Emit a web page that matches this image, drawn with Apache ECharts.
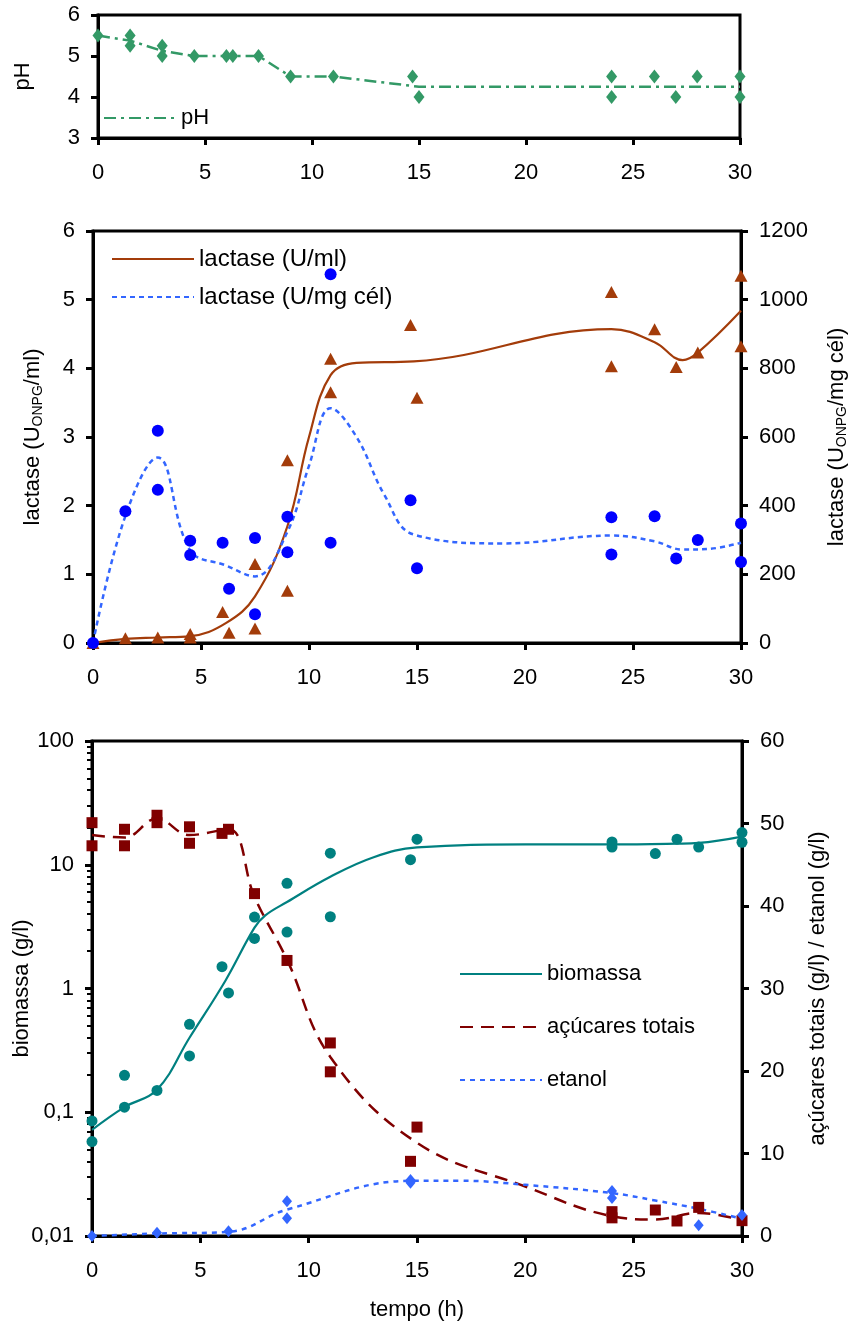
<!DOCTYPE html>
<html>
<head>
<meta charset="utf-8">
<script src="https://cdn.jsdelivr.net/npm/echarts@6/dist/echarts.min.js"></script>
<style>
  html, body { margin: 0; padding: 0; background: #fff; }
  #chart { width: 851px; height: 1323px; }
</style>
</head>
<body>
<div id="chart"></div>
<script>
// ---- time axis ----
const timeTicks = [0, 5, 10, 15, 20, 25, 30];

// ---- pH panel ----
const phTime   = [0, 1.5, 1.5, 3, 3, 4.5, 6, 6.3, 7.5, 9, 11, 14.7, 15, 24, 24, 26, 27, 28, 30, 30];
const phValues = [5.5, 5.5, 5.25, 5.25, 5.0, 5.0, 5.0, 5.0, 5.0, 4.5, 4.5, 4.5, 4.0, 4.5, 4.0, 4.5, 4.0, 4.5, 4.5, 4.0];
const phCurveTime = [0, 1.5, 3, 4.5, 6, 6.3, 7.5, 9, 11, 15, 24, 30];
const phCurve     = [5.5, 5.375, 5.125, 5.0, 5.0, 5.0, 5.0, 4.5, 4.5, 4.25, 4.25, 4.25];
const phTicks = [3, 4, 5, 6];

// ---- lactase panel ----
const lacMlTime   = [0, 1.5, 3, 4.5, 4.5, 6, 6.3, 7.5, 7.5, 9, 9, 11, 11, 14.7, 15, 24, 24, 26, 27, 28, 30, 30];
const lacMlValues = [0, 0.07, 0.08, 0.13, 0.08, 0.45, 0.15, 1.15, 0.21, 2.66, 0.76, 4.14, 3.65, 4.63, 3.57, 5.11, 4.03, 4.57, 4.02, 4.23, 5.35, 4.32];
const lacMlCurveTime = [0, 1.5, 3, 4.5, 6.15, 7.5, 9, 10, 11, 12.2, 14.85, 24, 26, 27.3, 28, 30];
const lacMlCurve     = [0, 0.06, 0.08, 0.10, 0.29, 0.68, 1.7, 3.0, 3.9, 4.08, 4.1, 4.57, 4.38, 4.12, 4.23, 4.84];

const lacCelTime   = [0, 1.5, 3, 3, 4.5, 4.5, 6, 6.3, 7.5, 7.5, 9, 9, 11, 11, 14.7, 15, 24, 24, 26, 27, 28, 30, 30];
const lacCelValues = [0, 384, 618, 446, 298, 256, 292, 158, 306, 84, 368, 264, 1074, 292, 416, 218, 366, 258, 369, 246, 300, 348, 236];
const lacCelCurveTime = [0, 1.5, 3, 4.5, 6.15, 7.5, 9, 10, 11, 12.2, 13.5, 14.85, 19, 24, 26, 27.3, 28.5, 30];
const lacCelCurve     = [0, 370, 540, 270, 226, 194, 324, 516, 684, 600, 430, 316, 290, 313, 296, 272, 274, 292];

const lacMlTicks  = [0, 1, 2, 3, 4, 5, 6];
const lacCelTicks = [0, 200, 400, 600, 800, 1000, 1200];

// ---- biomass / sugars / ethanol panel ----
const bioTime   = [0, 0, 1.5, 1.5, 3, 4.5, 4.5, 6, 6.3, 7.5, 7.5, 9, 9, 11, 11, 14.7, 15, 24, 24, 26, 27, 28, 30, 30];
const bioValues = [0.085, 0.058, 0.199, 0.110, 0.150, 0.514, 0.285, 1.50, 0.92, 3.78, 2.54, 7.08, 2.86, 12.4, 3.80, 11.0, 16.1, 15.3, 13.9, 12.3, 16.1, 13.9, 18.2, 15.2];
const bioCurveTime = [0, 1.5, 3, 4.5, 6.15, 7.5, 8, 9, 11, 13, 15, 20, 24, 27, 28, 30];
const bioCurve     = [0.072, 0.11, 0.152, 0.40, 1.15, 3.1, 3.9, 5.0, 8.0, 11.5, 13.8, 14.6, 14.6, 14.8, 15.0, 16.9];

const sugTime   = [0, 0, 1.5, 1.5, 3, 3, 4.5, 4.5, 6, 6.3, 7.5, 9, 11, 11, 14.7, 15, 24, 24, 26, 27, 28, 30];
const sugValues = [50.1, 47.3, 49.3, 47.3, 51.0, 50.1, 49.6, 47.6, 48.8, 49.3, 41.5, 33.4, 23.4, 19.9, 9.05, 13.2, 2.95, 2.2, 3.15, 1.82, 3.47, 1.86];
const sugCurveTime = [0, 1.5, 3, 4.5, 6.3, 7.5, 9, 11, 15, 20, 24, 26, 28, 30];
const sugCurve     = [48.6, 48.3, 50.6, 48.6, 49.3, 41.1, 33.5, 21.7, 11.3, 6.0, 2.4, 2.0, 2.8, 1.9];

const etoTime   = [0, 3, 6.3, 9, 9, 14.7, 14.7, 24, 24, 28, 30];
const etoValues = [0, 0.4, 0.57, 4.2, 2.14, 6.8, 6.46, 5.45, 4.6, 1.29, 2.55];
const etoCurveTime = [0, 3, 6.3, 9, 14.8, 17, 20, 24, 26, 28, 30];
const etoCurve     = [0, 0.3, 0.5, 3.2, 6.7, 6.7, 6.2, 5.2, 4.3, 3.3, 2.1];

const bioTicks = ['0,01', '0,1', '1', '10', '100'];
const rightTicks = [0, 10, 20, 30, 40, 50, 60];

// ---- helpers ----
const pair = (xs, ys) => xs.map((x, i) => [x, ys[i]]);
const FONT = "'Liberation Sans', Arial, sans-serif";
const BLACK = '#000';

const axisLine = { show: true, lineStyle: { color: BLACK, width: 3 } };
const axisTick = { show: true, length: 7, lineStyle: { color: BLACK, width: 3 } };
const labelStyle = { color: BLACK, fontFamily: FONT, fontSize: 22 };
const nameStyle = { fontSize: 22, color: BLACK, fontFamily: FONT };
const plainNumber = v => String(v);

function xAxis(gridIndex) {
  return {
    type: 'value', gridIndex, min: timeTicks[0], max: timeTicks[timeTicks.length - 1],
    interval: timeTicks[1] - timeTicks[0],
    axisLine, axisTick, splitLine: { show: false },
    axisLabel: Object.assign({ margin: 24, formatter: plainNumber }, labelStyle)
  };
}

const subRich = {
  a: { fontSize: 22, fontFamily: FONT, color: BLACK },
  s: { fontSize: 14, fontFamily: FONT, color: BLACK, padding: [11, 0, 0, 0] }
};

// log-spaced minor ticks for the biomass axis (2..9 within each decade, in log10 units)
const minorLog = [];
for (let d = -2; d < 2; d++) for (let k = 2; k <= 9; k++) minorLog.push(d + Math.log10(k));

const legendText = (size) => ({ fontSize: size, color: BLACK, fontFamily: FONT, lineHeight: size });

const gridBase = { show: true, borderColor: BLACK, borderWidth: 3, backgroundColor: 'transparent', outerBoundsMode: 'none', containLabel: false };

const chart = echarts.init(document.getElementById('chart'), null, { renderer: 'canvas' });

const option = {
  backgroundColor: '#fff',
  animation: false,
  textStyle: { fontFamily: FONT },
  grid: [
    Object.assign({ left: 98, right: 111, top: 15, height: 123 }, gridBase),
    Object.assign({ left: 93, right: 110, top: 231, height: 412 }, gridBase),
    Object.assign({ left: 92, right: 109, top: 741, height: 495 }, gridBase)
  ],
  legend: [
    {
      left: 98, top: 102, orient: 'vertical', itemWidth: 72, itemHeight: 14,
      itemStyle: { opacity: 0 },
      textStyle: legendText(22),
      data: ['pH']
    },
    {
      left: 106, top: 242, orient: 'vertical', itemWidth: 82, itemHeight: 14, itemGap: 14,
      itemStyle: { opacity: 0 },
      textStyle: legendText(24),
      data: ['lactase (U/ml)', 'lactase (U/mg cél)']
    },
    {
      left: 454, top: 958, orient: 'vertical', itemWidth: 82, itemHeight: 14, itemGap: 31,
      itemStyle: { opacity: 0 },
      textStyle: legendText(22),
      data: ['biomassa', 'açúcares totais', 'etanol']
    }
  ],
  xAxis: [
    xAxis(0),
    xAxis(1),
    Object.assign(xAxis(2), {
      name: 'tempo (h)', nameLocation: 'middle', nameGap: 63, nameMoveOverlap: false,
      nameTextStyle: nameStyle
    })
  ],
  yAxis: [
    {
      type: 'value', gridIndex: 0, position: 'left', min: phTicks[0], max: phTicks[phTicks.length - 1], interval: 1,
      axisLine, axisTick, splitLine: { show: false },
      axisLabel: Object.assign({ margin: 18, formatter: plainNumber }, labelStyle),
      name: 'pH', nameLocation: 'middle', nameRotate: 90, nameGap: 64, nameMoveOverlap: false,
      nameTextStyle: nameStyle
    },
    {
      type: 'value', gridIndex: 1, position: 'left', min: lacMlTicks[0], max: lacMlTicks[lacMlTicks.length - 1], interval: 1,
      axisLine, axisTick, splitLine: { show: false },
      axisLabel: Object.assign({ margin: 18, formatter: plainNumber }, labelStyle),
      name: '{a|lactase (U}{s|ONPG}{a|/ml)}', nameLocation: 'middle', nameRotate: 90, nameGap: 48, nameMoveOverlap: false,
      nameTextStyle: { rich: subRich }
    },
    {
      type: 'value', gridIndex: 1, position: 'right', min: lacCelTicks[0], max: lacCelTicks[lacCelTicks.length - 1], interval: 200,
      axisLine, axisTick, splitLine: { show: false },
      axisLabel: Object.assign({ margin: 18, formatter: plainNumber }, labelStyle),
      name: '{a|lactase (U}{s|ONPG}{a|/mg cél)}', nameLocation: 'middle', nameRotate: 90, nameGap: 83, nameMoveOverlap: false,
      nameTextStyle: { rich: subRich }
    },
    {
      type: 'log', logBase: 10, gridIndex: 2, position: 'left', min: 0.01, max: 100,
      axisLine, axisTick, splitLine: { show: false },
      axisLabel: Object.assign({
        margin: 18,
        formatter: v => {
          const i = Math.round(Math.log10(v)) + 2;
          return bioTicks[i] !== undefined ? bioTicks[i] : '';
        }
      }, labelStyle),
      name: 'biomassa (g/l)', nameLocation: 'middle', nameRotate: 90, nameGap: 59, nameMoveOverlap: false,
      nameTextStyle: nameStyle
    },
    {
      type: 'value', gridIndex: 2, position: 'right', min: rightTicks[0], max: rightTicks[rightTicks.length - 1], interval: 10,
      axisLine, axisTick, splitLine: { show: false },
      axisLabel: Object.assign({ margin: 18, formatter: plainNumber }, labelStyle),
      name: 'açúcares totais (g/l) / etanol (g/l)', nameLocation: 'middle', nameRotate: 90, nameGap: 65, nameMoveOverlap: false,
      nameTextStyle: nameStyle
    },
    {
      // minor ticks of the biomass log axis
      type: 'value', gridIndex: 2, position: 'left', offset: 0, min: -2, max: 2,
      axisLine: { show: false }, splitLine: { show: false }, axisLabel: { show: false },
      axisTick: { show: true, length: 5, customValues: minorLog, lineStyle: { color: BLACK, width: 2 } }
    }
  ],
  series: [
    // pH
    {
      name: 'pH', type: 'line', xAxisIndex: 0, yAxisIndex: 0, data: pair(phCurveTime, phCurve),
      symbol: 'none', z: 2,
      lineStyle: { color: '#339966', width: 2.5, type: [12, 5, 3, 5] }, itemStyle: { color: '#339966' }
    },
    {
      name: 'pH (pontos)', type: 'scatter', xAxisIndex: 0, yAxisIndex: 0, data: pair(phTime, phValues),
      symbol: 'diamond', symbolSize: [11, 14], itemStyle: { color: '#339966', opacity: 1 }, z: 3
    },
    // lactase
    {
      name: 'lactase (U/ml)', type: 'line', xAxisIndex: 1, yAxisIndex: 1, data: pair(lacMlCurveTime, lacMlCurve),
      symbol: 'none', smooth: 0.4, z: 2,
      lineStyle: { color: '#A33C0A', width: 2.2 }, itemStyle: { color: '#A33C0A' }
    },
    {
      name: 'lactase (U/ml) pontos', type: 'scatter', xAxisIndex: 1, yAxisIndex: 1, data: pair(lacMlTime, lacMlValues),
      symbol: 'triangle', symbolSize: [13, 12], itemStyle: { color: '#A33C0A', opacity: 1 }, z: 3
    },
    {
      name: 'lactase (U/mg cél)', type: 'line', xAxisIndex: 1, yAxisIndex: 2, data: pair(lacCelCurveTime, lacCelCurve),
      symbol: 'none', smooth: 0.4, z: 2,
      lineStyle: { color: '#3366FF', width: 2.5, type: [5, 4] }, itemStyle: { color: '#3366FF' }
    },
    {
      name: 'lactase (U/mg cél) pontos', type: 'scatter', xAxisIndex: 1, yAxisIndex: 2, data: pair(lacCelTime, lacCelValues),
      symbol: 'circle', symbolSize: 12, itemStyle: { color: '#0000FF', opacity: 1 }, z: 4
    },
    // biomass / sugars / ethanol
    {
      name: 'biomassa', type: 'line', xAxisIndex: 2, yAxisIndex: 3, data: pair(bioCurveTime, bioCurve),
      symbol: 'none', smooth: 0.4, z: 2,
      lineStyle: { color: '#008080', width: 2.2 }, itemStyle: { color: '#008080' }
    },
    {
      name: 'biomassa pontos', type: 'scatter', xAxisIndex: 2, yAxisIndex: 3, data: pair(bioTime, bioValues),
      symbol: 'circle', symbolSize: 11, itemStyle: { color: '#008080', opacity: 1 }, z: 3
    },
    {
      name: 'açúcares totais', type: 'line', xAxisIndex: 2, yAxisIndex: 4, data: pair(sugCurveTime, sugCurve),
      symbol: 'none', smooth: 0.4, z: 2,
      lineStyle: { color: '#800000', width: 2.5, type: [13, 8] }, itemStyle: { color: '#800000' }
    },
    {
      name: 'açúcares totais pontos', type: 'scatter', xAxisIndex: 2, yAxisIndex: 4, data: pair(sugTime, sugValues),
      symbol: 'rect', symbolSize: 11, itemStyle: { color: '#800000', opacity: 1 }, z: 3
    },
    {
      name: 'etanol', type: 'line', xAxisIndex: 2, yAxisIndex: 4, data: pair(etoCurveTime, etoCurve),
      symbol: 'none', smooth: 0.4, z: 2,
      lineStyle: { color: '#3366FF', width: 2.5, type: [5, 5] }, itemStyle: { color: '#3366FF' }
    },
    {
      name: 'etanol pontos', type: 'scatter', xAxisIndex: 2, yAxisIndex: 4, data: pair(etoTime, etoValues),
      symbol: 'diamond', symbolSize: [10, 12], itemStyle: { color: '#3366FF', opacity: 1 }, z: 3
    }
  ]
};

chart.setOption(option);
</script>
</body>
</html>
